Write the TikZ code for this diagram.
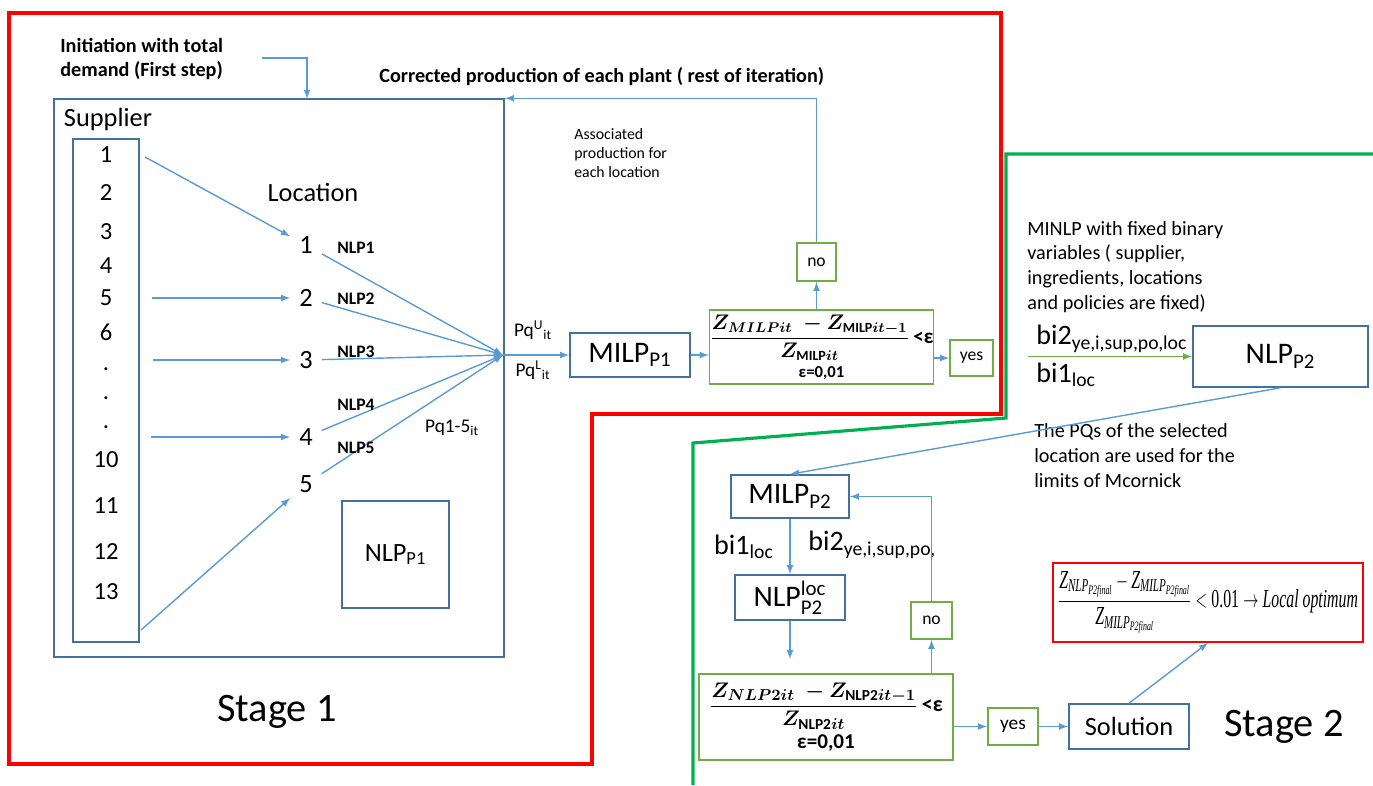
\documentclass[tikz,border=0pt]{standalone}
\usepackage{fontspec}
\setmainfont{Carlito}
\newfontfamily\tms{Liberation Serif}
\usepackage{amsmath}
\usepackage{bm}
\usepackage{graphicx}
\usetikzlibrary{arrows,shapes,positioning}
\definecolor{lineblue}{RGB}{91,155,213}
\definecolor{boxblue}{RGB}{65,113,156}
\definecolor{boxgreen}{RGB}{112,173,71}
\definecolor{stagegreen}{RGB}{0,176,80}
\newcommand{\fsz}[2]{\fontsize{#1}{#2}\selectfont}
\newcommand{\ti}[1]{\text{\tms\itshape #1}}

\begin{document}
\begin{tikzpicture}[x=0.02cm, y=-0.02cm]
                    \tikzstyle{every node}+=[inner sep=0pt]
                    \tikzstyle{blk}=[draw=boxblue, line width=0.9pt]
                    \tikzstyle{chk}=[draw=boxgreen, line width=0.9pt]
                    \tikzstyle{flow}=[draw=lineblue, line width=0.8pt, -latex]
                    \tikzstyle{greenflow}=[draw=boxgreen, line width=0.8pt, -latex]
                    \useasboundingbox (0,0) rectangle (1373,785);
                    % stage frames
                    \draw [red, line width=1.8pt] (9,13) -- (1001,13) -- (1001,414) -- (592,414) -- (592,764) -- (9,764) -- cycle;
                    \draw [stagegreen, line width=1.8pt] (1373,154) -- (1006,154) -- (1006,418) -- (693,443) -- (693,785);
                    % stage 1
                    \node (stage1box) [blk, minimum width=9cm, minimum height=11.16cm] at (279,378) {};
                    \node (supcol) [blk, minimum width=1.32cm, minimum height=10.06cm] at (106,390.5) {};
                    \node (suplabel) at (108,119) {\fsz{15}{18}Supplier};
                    \foreach \lab/\y [count=\i] in {1/155,2/193,3/232,4/266,5/298,6/332,./369,./398,./427,10/460,11/506,12/552,13/592}
                        \node (s\i) at (106,\y) {\fsz{14}{14}\lab};
                    \node (loclabel) at (313,192) {\fsz{15}{18}Location};
                    \foreach \i/\y in {1/245,2/298,3/360,4/437,5/484}
                        \node (l\i) [inner sep=5pt] at (306,\y) {\fsz{15}{15}\i};
                    \coordinate (t1) at (145,157);
                    \coordinate (t2) at (152,298);
                    \coordinate (t3) at (153,360);
                    \coordinate (t4) at (151,437);
                    \coordinate (t5) at (141,630);
                    \foreach \i in {1,...,5}
                        \draw [flow] (t\i) -- (l\i);
                    \coordinate (hub) at (503,355);
                    \foreach \i in {1,...,5}
                        \draw [flow] (l\i) -- (hub);
                    \foreach \i/\y in {1/248,2/299,3/352,4/405,5/448}
                        \node (nlp\i lab) at (356,\y) {\fsz{10}{10}\bfseries NLP\i};
                    \node (pq15) at (452,428) {\fsz{11}{11}Pq1-5\textsubscript{it}};
                    \node (nlp1) [blk, minimum width=2.14cm, minimum height=2.14cm] at (395.5,554.5) {\fsz{15}{15}NLP\textsubscript{P1}};
                    \node (stage1) at (277,712) {\fsz{23}{23}Stage 1};
                    \node (initlab) [align=left, anchor=west, font=\fsz{11.5}{13.6}\bfseries] at (60,59) {Initiation with total\\demand (First step)};
                    \coordinate (initout) at (262,58);
                    \coordinate (initin) at (307,99);
                    \draw [flow] (initout) -| (initin);
                    \node (corrlab) [anchor=west] at (379,77) {\fsz{11.5}{13}\bfseries Corrected production of each plant ( rest of iteration)};
                    \node (assoclab) [align=left, anchor=north west, font=\fsz{9}{11}] at (574,128) {Associated\\production for\\each location};
                    \node (pqu) at (533,330) {\fsz{11}{11}Pq\textsuperscript{U}\textsubscript{it}};
                    \node (pql) at (533,370) {\fsz{11}{11}Pq\textsuperscript{L}\textsubscript{it}};
                    \node (milp1) [blk, minimum width=2.4cm, minimum height=0.88cm] at (630,355) {\fsz{17}{17}MILP\textsubscript{P1}};
                    \node (chk1) [chk, minimum width=4.46cm, minimum height=1.48cm, align=center, font=\fsz{12}{12}] at (821.5,347)
                        {$\dfrac{\bm{Z_{MILPit}}\;\bm{-}\bm{Z}_{\mathbf{MILP}\bm{it-1}}}{\bm{Z}_{\mathbf{MILP}\bm{it}}}$\,\textbf{<ε}\\[2pt]{\fsz{9.5}{9.5}\bfseries ε=0,01}};
                    \node (yes1) [chk, minimum width=0.86cm, minimum height=0.72cm] at (971.5,358) {\fsz{10}{10}yes};
                    \node (no1) [chk, minimum width=0.78cm, minimum height=0.76cm] at (816.5,262) {\fsz{10}{10}no};
                    \draw [flow] (hub) -- (milp1);
                    \draw [flow] (milp1) -- (chk1.west |- milp1);
                    \draw [flow] (chk1.east |- yes1) -- (yes1);
                    \draw [flow] (no1 |- chk1.north) -- (no1);
                    \draw [flow] (no1.north) |- (stage1box.north east);
                    % stage 2
                    \node (minlplab) [align=left, anchor=north west, font=\fsz{11.5}{14}] at (1027,221) {MINLP with fixed binary\\variables ( supplier,\\ingredients, locations\\and policies are fixed)};
                    \node (nlp2) [blk, minimum width=3.5cm, minimum height=1.22cm] at (1280.5,356.5) {\fsz{17}{17}NLP\textsubscript{P2}};
                    \coordinate (binin) at (1028,356.5);
                    \draw [greenflow] (binin) -- (nlp2);
                    \node (bi2lab) [anchor=west] at (1036,339) {\fsz{16}{16}bi2\textsubscript{ye,i,sup,po,loc}};
                    \node (bi1lab) [anchor=west] at (1036,375) {\fsz{16}{16}bi1\textsubscript{loc}};
                    \node (pqslab) [align=left, anchor=north west, font=\fsz{11.5}{14.2}] at (1034,423) {The PQs of the selected\\location are used for the\\limits of Mcornick};
                    \node (milp2) [blk, minimum width=2.36cm, minimum height=0.86cm] at (790,496.5) {\fsz{17}{17}MILP\textsubscript{P2}};
                    \draw [flow] (nlp2.south) -- (milp2.north);
                    \node (nlploc) [blk, minimum width=2.2cm, minimum height=0.9cm] at (790,597.5) {\fsz{17}{17}NLP$^{\text{loc}}_{\text{P2}}$};
                    \draw [flow] (milp2) -- (nlploc);
                    \node (bi1loc) at (744,547) {\fsz{16}{16}bi1\textsubscript{loc}};
                    \node (bi2loc) [anchor=west] at (808,545) {\fsz{16}{16}bi2\textsubscript{ye,i,sup,po,}};
                    \node (chk2) [chk, minimum width=5.08cm, minimum height=1.72cm, align=center, font=\fsz{12.5}{13}] at (826,717)
                        {$\dfrac{\bm{Z_{NLP2it}}\;\bm{-}\bm{Z}_{\mathbf{NLP2}\bm{it-1}}}{\bm{Z}_{\mathbf{NLP2}\bm{it}}}$\,\textbf{<ε}\\[2pt]{\fsz{12}{12}\bfseries ε=0,01}};
                    \draw [flow, shorten >=0.28cm] (nlploc) -- (chk2.north -| nlploc);
                    \node (no2) [chk, minimum width=0.82cm, minimum height=0.74cm] at (931.5,620.5) {\fsz{10}{10}no};
                    \draw [flow] (no2 |- chk2.north) -- (no2);
                    \draw [flow] (no2.north) |- (milp2.east);
                    \node (yes2) [chk, minimum width=1.0cm, minimum height=0.74cm] at (1013,726.5) {\fsz{11}{11}yes};
                    \draw [flow] (chk2.east |- yes2) -- (yes2);
                    \node (sol) [blk, minimum width=2.4cm, minimum height=0.9cm] at (1129,726.5) {\fsz{15}{15}Solution};
                    \draw [flow] (yes2) -- (sol);
                    \node (optbox) [draw=red, line width=0.9pt, minimum width=6.2cm, minimum height=1.58cm] at (1208,602.5)
                        {\resizebox*{6.0cm}{1.25cm}{\fsz{15}{15}$\dfrac{\ti{Z}_{\ti{NLP}_{\ti{P2final}}}-\ti{Z}_{\ti{MILP}_{\ti{P2final}}}}{\ti{Z}_{\ti{MILP}_{\ti{P2final}}}}<\text{\tms 0.01}\rightarrow\ti{Local optimum}$}};
                    \draw [flow] (sol.north) -- (optbox.south);
                    \node (stage2) at (1284,727) {\fsz{23}{23}Stage 2};
\end{tikzpicture}
\end{document}
